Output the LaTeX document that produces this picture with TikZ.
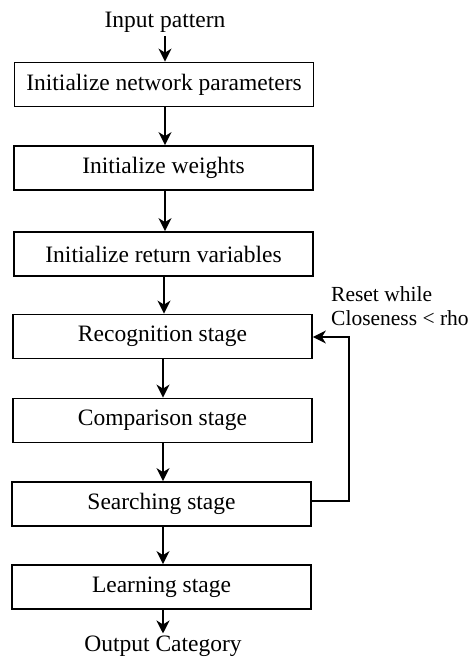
\documentclass[tikz,border=0pt]{standalone}
\usepackage{fontspec}
\setmainfont{Liberation Serif}
\usetikzlibrary{arrows.meta}
\begin{document}
\begin{tikzpicture}[x=1pt,y=-1pt,
  stepbox/.style={draw, line width=1.8pt, minimum width=299pt, minimum height=44pt, inner sep=0pt, font=\fontsize{23.5}{25}\selectfont},
  lbl/.style={inner sep=0pt, font=\fontsize{23.5}{25}\selectfont},
  flow/.style={line width=1.8pt, -{Stealth[length=13pt,width=13pt,inset=4pt]}}]
\useasboundingbox (0,0) rectangle (469,657);
\node[lbl] (in) at (165,22) {Input pattern};
\node[stepbox] (b1) at (164,84.5) {Initialize network parameters};
\node[stepbox] (b2) at (163.5,168) {Initialize weights};
\node[stepbox] (b3) at (163.5,254) {Initialize return variables};
\node[stepbox] (b4) at (162.5,336.5) {Recognition stage};
\node[stepbox] (b5) at (162.5,420.5) {Comparison stage};
\node[stepbox] (b6) at (161.5,504) {Searching stage};
\node[stepbox] (b7) at (161.5,587) {Learning stage};
\node[lbl] (out) at (163,646) {Output Category};
\node[inner sep=0pt, font=\fontsize{21.5}{24}\selectfont, anchor=north west, align=left] (reset) at (331,286) {Reset while\\Closeness < rho};
\coordinate (c1) at (349,501);
\coordinate (c2) at (349,337);
\draw[flow] ([yshift=-4pt]in.south -| 165,0) -- (b1.north -| 165,0);
\draw[flow] (b1.south -| 165,0) -- (b2.north -| 165,0);
\draw[flow] (b2.south -| 165,0) -- (b3.north -| 165,0);
\draw[flow] (b3.south -| 164,0) -- (b4.north -| 164,0);
\draw[flow] (b4.south -| 163,0) -- (b5.north -| 163,0);
\draw[flow] (b5.south -| 163,0) -- (b6.north -| 163,0);
\draw[flow] (b6.south -| 163,0) -- (b7.north -| 163,0);
\draw[flow] (b7.south -| 163,0) -- ([yshift=2pt]out.north -| 163,0);
\draw[flow, line width=1.4pt] (b6.east |- c1) -- (c1) -- (c2) -- (b4.east |- c2);
\end{tikzpicture}
\end{document}
